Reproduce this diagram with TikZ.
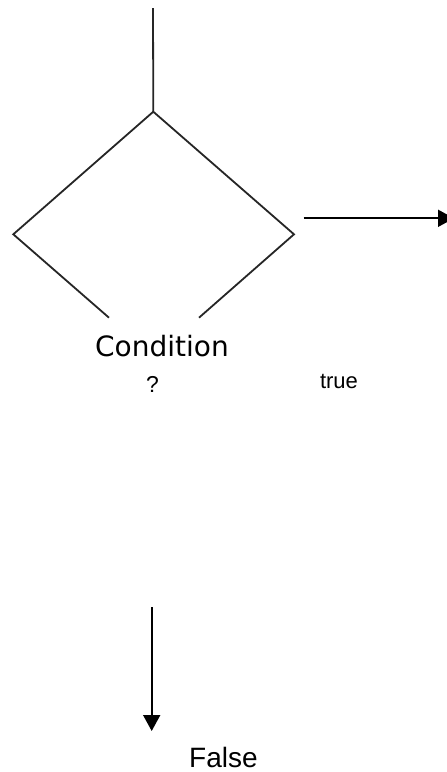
\documentclass[tikz,border=0pt]{standalone}
\usepackage{fontspec}
\setmainfont{Liberation Sans}
\newfontfamily\labelfont{DejaVu Sans}
\usetikzlibrary{arrows.meta}
\begin{document}
\begin{tikzpicture}[x=1pt,y=-1pt,
  edge/.style={line width=1.8pt,black!85},
  flow/.style={edge,black,-{Triangle[length=16pt,width=17pt]}},
  txt/.style={inner sep=0pt,anchor=base}]
\useasboundingbox (0,0) rectangle (447,772);
% decision shape: open at the bottom where the label sits
\coordinate (in) at (153,8);
\coordinate (apex) at (153.3,111.7);
\coordinate (west) at (13.3,234.3);
\coordinate (east) at (294,234.3);
\coordinate (swend) at (109,317.7);
\coordinate (seend) at (199,317.7);
\draw[edge] (in) -- (apex);
\draw[edge,line join=miter] (swend) -- (west) -- (apex) -- (east) -- (seend);
% labels
\node[txt] (cond) at (162,356.5) {\fontsize{28}{32}\selectfont\labelfont Condition};
\node[txt] (q) at (152.5,392) {\fontsize{23}{27}\selectfont ?};
\node[txt] (true) at (339,388) {\fontsize{22}{26}\selectfont true};
\node[txt,anchor=base west] (false) at (189,767) {\fontsize{28}{32}\selectfont False};
% outgoing branches
\coordinate (tstart) at (303.5,218.3);
\coordinate (tend) at (454,218.3);
\draw[flow] (tstart) -- (tend);
\coordinate (fstart) at (151.7,607);
\coordinate (fend) at (151.7,731);
\draw[flow] (fstart) -- (fend);
\end{tikzpicture}
\end{document}
